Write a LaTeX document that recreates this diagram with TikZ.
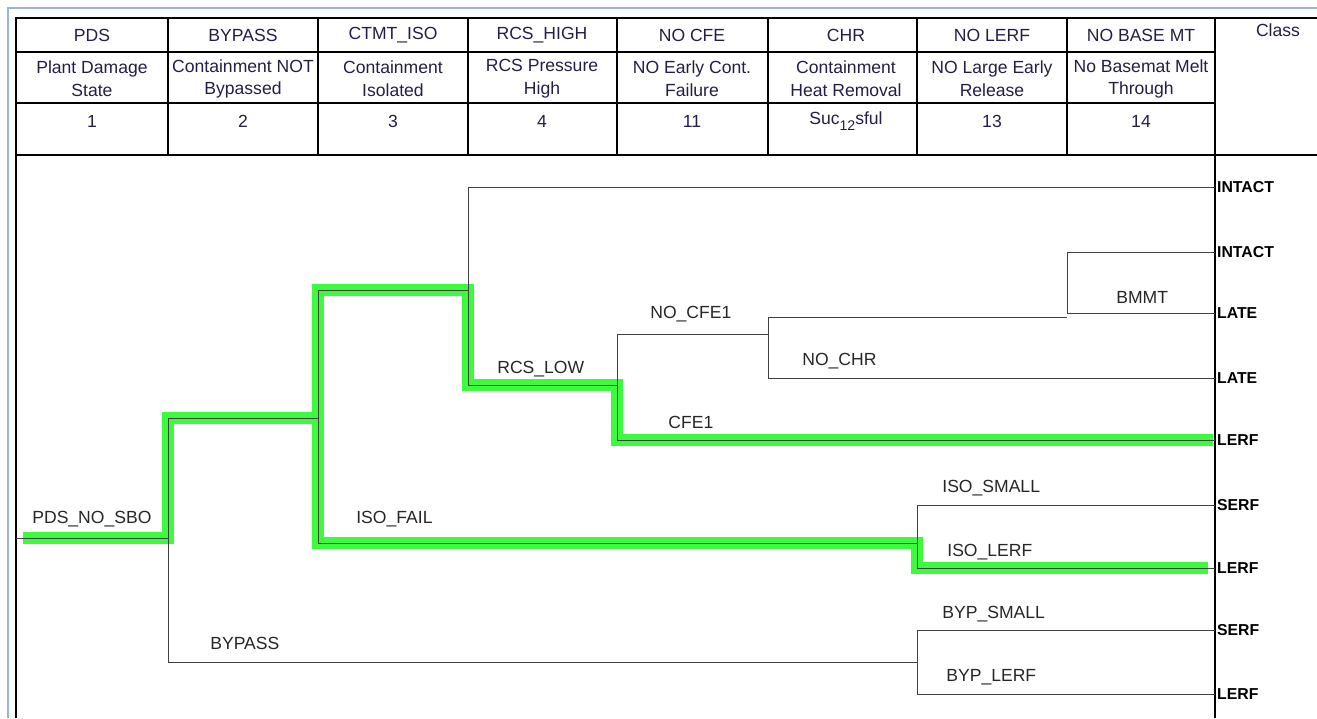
\documentclass[tikz,border=0pt]{standalone}
\usepackage{fontspec}
\setmainfont{Liberation Sans}
\usetikzlibrary{positioning}
\definecolor{hilite}{RGB}{60,250,60}
\definecolor{frameblue}{RGB}{150,180,225}
\definecolor{headink}{RGB}{35,30,70}
\begin{document}
\begin{tikzpicture}[x=0.02cm, y=-0.02cm,
  tbl/.style={line width=0.6pt},
  branch/.style={line width=0.5pt, draw=black!75},
  hl/.style={line width=6.5pt, draw=hilite, shift={(1pt,-1.5pt)}},
  lbl/.style={font=\fontsize{10}{11}\selectfont, anchor=base west, inner sep=0pt, text=black!85},
  cls/.style={font=\fontsize{9}{10}\selectfont\bfseries, anchor=west, inner sep=1pt},
  hd/.style={font=\fontsize{10}{13}\selectfont, align=center, inner sep=0pt, text=headink}]
\useasboundingbox (0,0) rectangle (1317,718);

% frame and table
\draw[frameblue, line width=1pt] (8,718) -- (8,8) -- (1317,8);
\draw[tbl] (16,718) -- (16,18) -- (1317,18);
\draw[tbl] (16,52) -- (1215,52);
\draw[tbl] (16,103) -- (1215,103);
\draw[tbl] (16,155) -- (1317,155);
\foreach \x in {168,318,468,617,768,917,1067}
  \draw[tbl] (\x,18) -- (\x,155);
\draw[tbl] (1215,18) -- (1215,718);

% header
\foreach \cx/\code/\desc/\num [count=\i] in {
  92/PDS/{Plant Damage\\State}/1,
  243/BYPASS/{Containment NOT\\Bypassed}/2,
  393/CTMT\_ISO/{Containment\\Isolated}/3,
  542/RCS\_HIGH/{RCS Pressure\\High}/4,
  692/NO CFE/{NO Early Cont.\\Failure}/11,
  846/CHR/{Containment\\Heat Removal}/{\raisebox{3pt}{Suc}{\footnotesize 12}\raisebox{3pt}{sful}},
  992/NO LERF/{NO Large Early\\Release}/13,
  1141/NO BASE MT/{No Basemat Melt\\Through}/14}
{
  \node[hd] (h\i) at (\cx,35) {\code};
  \node[hd] (d\i) at (\cx,79) {\desc};
  \node[hd] (n\i) at (\cx,121) {\num};
}
\node[hd] (hclass) at (1278,30) {Class};

% branch points
\coordinate (s0) at (16,538);
\coordinate (pds) at (168,538);
\coordinate (pds-up) at (168,418);
\coordinate (pds-dn) at (168,662);
\coordinate (iso) at (318,418);
\coordinate (iso-up) at (318,290);
\coordinate (iso-dn) at (318,543);
\coordinate (rcs) at (468,290);
\coordinate (rcs-up) at (468,187);
\coordinate (rcs-dn) at (468,385);
\coordinate (cfe) at (617,385);
\coordinate (cfe-up) at (617,334);
\coordinate (cfe-dn) at (617,440);
\coordinate (chr) at (768,334);
\coordinate (chr-up) at (768,317);
\coordinate (chr-dn) at (768,378);
\coordinate (bmt) at (1067,317);
\coordinate (bmt-up) at (1067,252);
\coordinate (bmt-dn) at (1067,313);
\coordinate (lerf) at (917,543);
\coordinate (lerf-up) at (917,505);
\coordinate (lerf-dn) at (917,568);
\coordinate (byp) at (917,662);
\coordinate (byp-up) at (917,630);
\coordinate (byp-dn) at (917,694);

% end classes
\foreach \y/\cl [count=\i] in {187/INTACT,252/INTACT,313/LATE,378/LATE,440/LERF,
    505/SERF,568/LERF,630/SERF,694/LERF}
  \node[cls] (c\i) at (1215,\y) {\cl};

% highlighted sequences
\draw[hl] ([xshift=4pt]s0) -- (pds) |- (iso) |- (rcs) |- (cfe) |- ([xshift=-1pt]c5.west);
\draw[hl] (iso) |- (lerf) |- ([xshift=-4pt]c7.west);

% tree
\draw[branch] (s0) -- (pds);
\draw[branch] (pds-up) -- (pds-dn);
\draw[branch] (pds-up) -- (iso);
\draw[branch] (pds-dn) -- (byp);
\draw[branch] (iso-up) -- (iso-dn);
\draw[branch] (iso-up) -- (rcs);
\draw[branch] (iso-dn) -- (lerf);
\draw[branch] (rcs-up) -- (rcs-dn);
\draw[branch] (rcs-up) -- (c1.west);
\draw[branch] (rcs-dn) -- (cfe);
\draw[branch] (cfe-up) -- (cfe-dn);
\draw[branch] (cfe-up) -- (chr);
\draw[branch] (cfe-dn) -- (c5.west);
\draw[branch] (chr-up) -- (chr-dn);
\draw[branch] (chr-up) -- (bmt);
\draw[branch] (chr-dn) -- (c4.west);
\draw[branch] (bmt-up) -- (bmt-dn);
\draw[branch] (bmt-up) -- (c2.west);
\draw[branch] (bmt-dn) -- (c3.west);
\draw[branch] (lerf-up) -- (lerf-dn);
\draw[branch] (lerf-up) -- (c6.west);
\draw[branch] (lerf-dn) -- (c7.west);
\draw[branch] (byp-up) -- (byp-dn);
\draw[branch] (byp-up) -- (c8.west);
\draw[branch] (byp-dn) -- (c9.west);

% branch labels
\node[lbl] (l-pds) at (32,523) {PDS\_NO\_SBO};
\node[lbl] (l-byp) at (210,649) {BYPASS};
\node[lbl] (l-iso) at (356,523) {ISO\_FAIL};
\node[lbl] (l-rcs) at (497,373) {RCS\_LOW};
\node[lbl] (l-nocfe) at (650,318) {NO\_CFE1};
\node[lbl] (l-cfe) at (668,428) {CFE1};
\node[lbl] (l-chr) at (802,365) {NO\_CHR};
\node[lbl] (l-bmt) at (1116,303) {BMMT};
\node[lbl] (l-isos) at (942,492) {ISO\_SMALL};
\node[lbl] (l-isol) at (947,556) {ISO\_LERF};
\node[lbl] (l-byps) at (942,618) {BYP\_SMALL};
\node[lbl] (l-bypl) at (946,681) {BYP\_LERF};
\end{tikzpicture}
\end{document}
